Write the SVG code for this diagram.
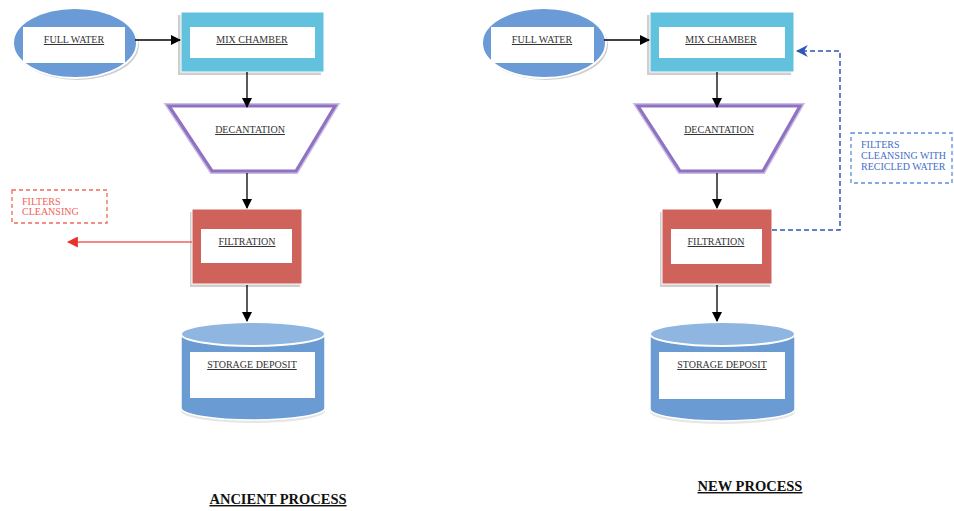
<svg xmlns="http://www.w3.org/2000/svg" width="954" height="511" viewBox="0 0 954 511">
<defs>
<marker id="ab" viewBox="0 0 10 10" refX="9" refY="5" markerWidth="10" markerHeight="10" markerUnits="userSpaceOnUse" orient="auto"><path d="M0,0 L10,5 L0,10 Z" fill="#000"/></marker>
<marker id="ar" viewBox="0 0 10 10" refX="9" refY="5" markerWidth="11" markerHeight="11" markerUnits="userSpaceOnUse" orient="auto"><path d="M0,0 L10,5 L0,10 Z" fill="#e8312a"/></marker>
<marker id="abl" viewBox="0 0 10 10" refX="9" refY="5" markerWidth="12" markerHeight="12" markerUnits="userSpaceOnUse" orient="auto"><path d="M0,0 L10,5 L0,10 L3,5 Z" fill="#2f55b5"/></marker>
</defs>
<style>
.lbl{font-family:"Liberation Serif","Times New Roman",serif;font-size:10px;fill:#333;text-decoration:underline;text-anchor:middle}
.ttl{font-family:"Liberation Serif","Times New Roman",serif;font-size:14.5px;font-weight:bold;fill:#111;text-decoration:underline;text-anchor:middle}
.inner{fill:#fff}
.ell{fill:#6b9bd6;stroke:#fff;stroke-width:2}
.mix{fill:#62c2de;stroke:#fff;stroke-width:1}
.fil{fill:#d0625c;stroke:#fff;stroke-width:1}
.sh{fill:#cfcfcf}
.decO{fill:#fff;stroke:#cbbde6;stroke-width:6;stroke-linejoin:miter}
.decI{fill:#fff;stroke:#9072c2;stroke-width:3.2;stroke-linejoin:miter}
.cylB{fill:#6a9bd3}
.cylT{fill:#8fb5e1;stroke:#fff;stroke-width:2}
.ln{stroke:#000;stroke-width:1.3;fill:none;marker-end:url(#ab)}
.note{font-family:"Liberation Serif","Times New Roman",serif;font-size:10px}
</style>

<!-- LEFT: ANCIENT PROCESS -->
<g id="full-water-1">
<ellipse cx="77" cy="45" rx="62" ry="35" class="sh"/>
<ellipse cx="75" cy="43" rx="62" ry="35" class="ell"/>
<rect x="23" y="27" width="102" height="36" class="inner"/>
<text x="74" y="43" class="lbl">FULL WATER</text>
</g>
<g id="mix-chamber-1">
<rect x="178" y="15" width="143" height="60" class="sh"/>
<rect x="181" y="12" width="143" height="60" class="mix"/>
<rect x="190" y="27" width="125" height="31" class="inner"/>
<text x="252" y="43" class="lbl">MIX CHAMBER</text>
</g>
<g id="decantation-1">
<polygon points="169,106 335,106 296,171 212,171" class="decO"/>
<polygon points="169,106 335,106 296,171 212,171" class="decI"/>
<text x="250" y="133" class="lbl">DECANTATION</text>
</g>
<g id="filtration-1">
<rect x="190" y="212" width="110" height="75" class="sh"/>
<rect x="192" y="209" width="110" height="75" class="fil"/>
<rect x="201" y="229" width="91" height="34" class="inner"/>
<text x="247" y="245" class="lbl">FILTRATION</text>
</g>
<g id="storage-1">
<path d="M181,336 L181,408 A72,12 0 0 0 325,408 L325,336 Z" fill="#e6e6e6" transform="translate(0,3)"/>
<path d="M181,334 L181,408 A72,12 0 0 0 325,408 L325,334 Z" class="cylB" stroke="#fff" stroke-width="1.5"/>
<ellipse cx="253" cy="334" rx="72" ry="12" class="cylT"/>
<rect x="190" y="352" width="125" height="46" class="inner"/>
<text x="252" y="368" class="lbl">STORAGE DEPOSIT</text>
</g>
<g id="filters-cleansing-note">
<rect x="12" y="190" width="95" height="33" fill="none" stroke="#ee6a5a" stroke-width="1.3" stroke-dasharray="4,3"/>
<text class="note" fill="#f0625a"><tspan x="22" y="205">FILTERS</tspan><tspan x="22" y="215">CLEANSING</tspan></text>
</g>
<text x="278" y="504" class="ttl">ANCIENT PROCESS</text>

<!-- RIGHT: NEW PROCESS -->
<g id="full-water-2">
<ellipse cx="546" cy="45" rx="62" ry="35" class="sh"/>
<ellipse cx="544" cy="43" rx="62" ry="35" class="ell"/>
<rect x="491" y="27" width="103" height="36" class="inner"/>
<text x="542" y="43" class="lbl">FULL WATER</text>
</g>
<g id="mix-chamber-2">
<rect x="647" y="15" width="144" height="60" class="sh"/>
<rect x="650" y="12" width="144" height="60" class="mix"/>
<rect x="659" y="27" width="126" height="31" class="inner"/>
<text x="721" y="43" class="lbl">MIX CHAMBER</text>
</g>
<g id="decantation-2">
<polygon points="638,106 800,106 763,171 680,171" class="decO"/>
<polygon points="638,106 800,106 763,171 680,171" class="decI"/>
<text x="719" y="133" class="lbl">DECANTATION</text>
</g>
<g id="filtration-2">
<rect x="660" y="212" width="110" height="75" class="sh"/>
<rect x="662" y="209" width="110" height="75" class="fil"/>
<rect x="671" y="229" width="91" height="35" class="inner"/>
<text x="716" y="245" class="lbl">FILTRATION</text>
</g>
<g id="storage-2">
<path d="M650,336 L650,409 A72.5,12 0 0 0 795,409 L795,336 Z" fill="#e6e6e6" transform="translate(0,3)"/>
<path d="M650,334 L650,409 A72.5,12 0 0 0 795,409 L795,334 Z" class="cylB" stroke="#fff" stroke-width="1.5"/>
<ellipse cx="722.5" cy="334" rx="72.5" ry="12" class="cylT"/>
<rect x="659" y="352" width="126" height="47" class="inner"/>
<text x="722" y="368" class="lbl">STORAGE DEPOSIT</text>
</g>
<g id="filters-recycled-note">
<rect x="851" y="133" width="101" height="50" fill="none" stroke="#5b8fdb" stroke-width="1.3" stroke-dasharray="4,3"/>
<text class="note" fill="#3f6fc9"><tspan x="861" y="148">FILTERS</tspan><tspan x="861" y="159">CLEANSING WITH</tspan><tspan x="861" y="170">RECICLED WATER</tspan></text>
</g>
<text x="750" y="491" class="ttl">NEW PROCESS</text>

<!-- CONNECTORS -->
<g id="connectors">
<line x1="135" y1="40" x2="180" y2="40" class="ln"/>
<line x1="247" y1="72" x2="247" y2="107" class="ln"/>
<line x1="247" y1="173" x2="247" y2="208" class="ln"/>
<line x1="247" y1="285" x2="247" y2="321" class="ln"/>
<line x1="192" y1="242" x2="68" y2="242" stroke="#f0605a" stroke-width="1.6" marker-end="url(#ar)"/>
<line x1="604" y1="40" x2="649" y2="40" class="ln"/>
<line x1="717" y1="72" x2="717" y2="107" class="ln"/>
<line x1="717" y1="173" x2="717" y2="208" class="ln"/>
<line x1="717" y1="285" x2="717" y2="321" class="ln"/>
<polyline points="772,230 840,230 840,51 797,51" fill="none" stroke="#2f55b5" stroke-width="1.5" stroke-dasharray="5,3" marker-end="url(#abl)"/>
</g>
</svg>
